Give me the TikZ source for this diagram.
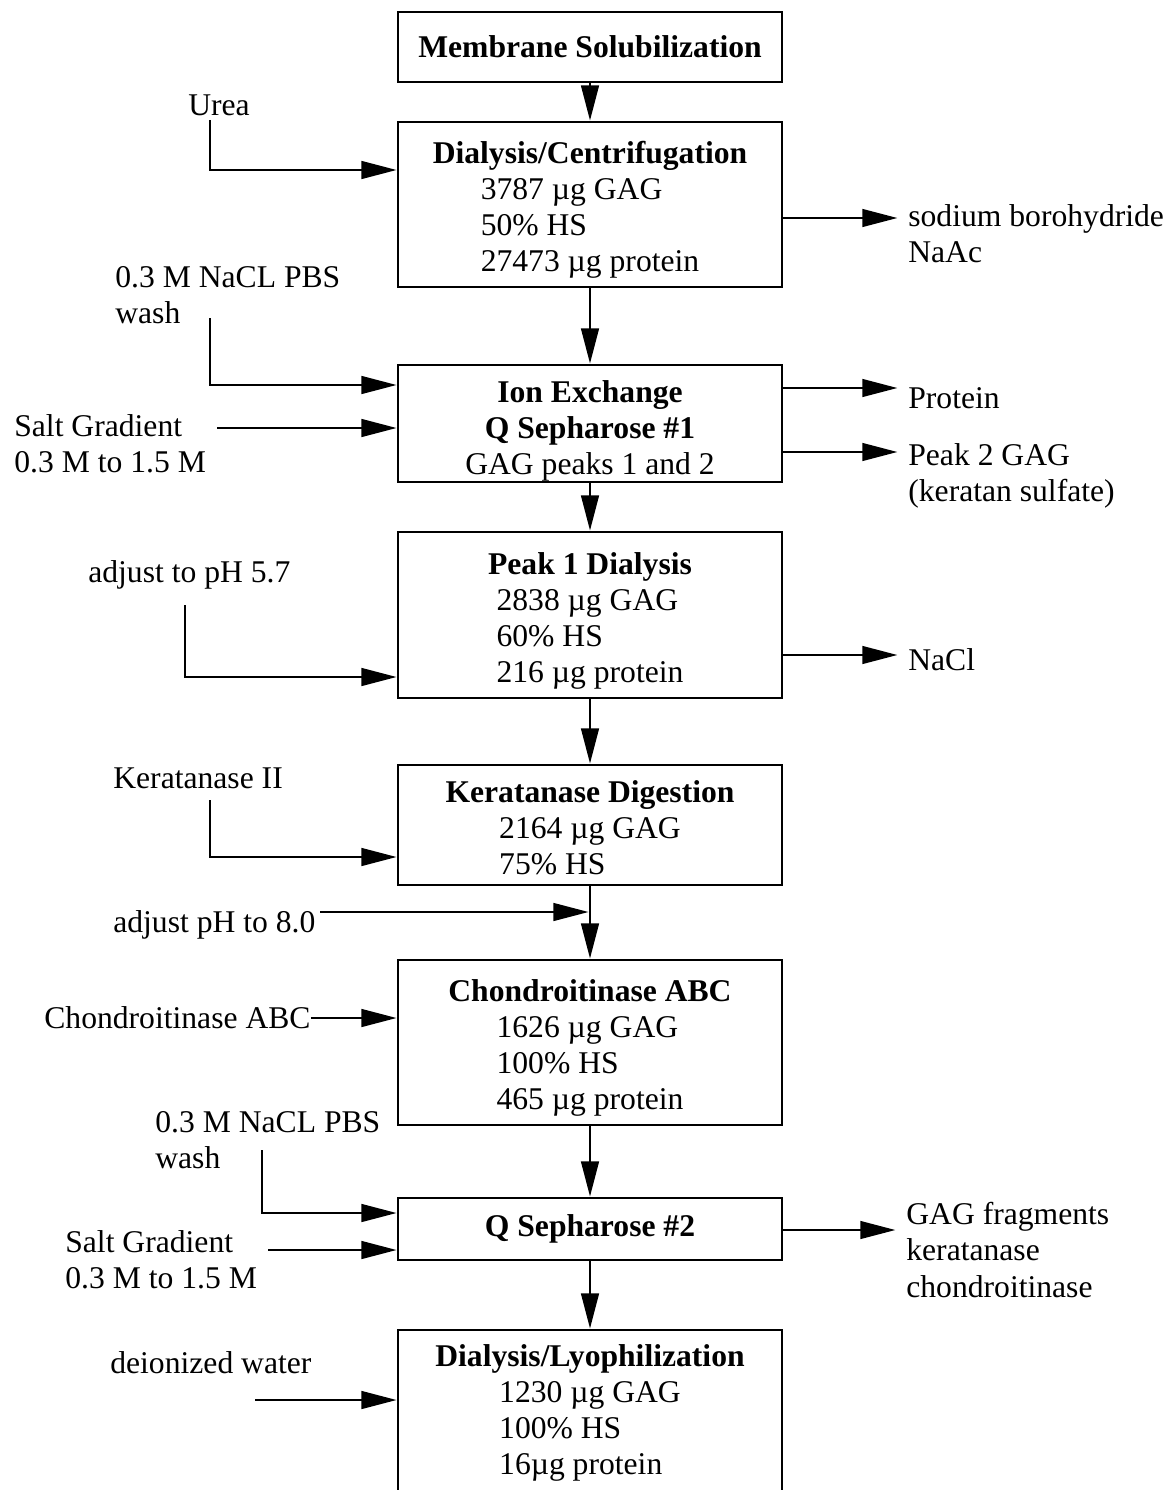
\documentclass[tikz,border=0pt]{standalone}
\usepackage{fontspec}
\setmainfont{Liberation Serif}
\usetikzlibrary{arrows.meta,positioning}

\newcommand\steptitle[1]{\rule{0pt}{21pt}\textbf{#1}}

\begin{document}
\begin{tikzpicture}[x=0.02cm,y=-0.02cm,
    font=\fontsize{18}{20.5}\selectfont,
    stepbox/.style={draw,line width=1.6pt,minimum width=7.68cm,
      align=center,inner sep=0pt},
    lbl/.style={align=left,inner sep=0pt,anchor=west},
    ar/.style={-{Triangle[length=20pt,width=10pt]},line width=1.5pt},
    outar/.style={ar,shorten >=6pt},
  ]
    \useasboundingbox (0,0) rectangle (1171,1490);
    \clip (0,0) rectangle (1171,1490);

    % main steps
    \node[stepbox,minimum height=1.4cm](solub) at (590,47)
      {\textbf{Membrane Solubilization}};
    \node[stepbox,minimum height=3.3cm](dialys) at (590,204.5)
      {\steptitle{Dialysis/Centrifugation}\\
       \begin{tabular}[t]{@{}l@{}}3787 µg GAG\\50\% HS\\27473 µg protein\end{tabular}};
    \node[stepbox,minimum height=2.34cm](ionex) at (590,423.5)
      {\steptitle{Ion Exchange}\\\textbf{Q Sepharose \#1}\\GAG peaks 1 and 2};
    \node[stepbox,minimum height=3.32cm](peak1) at (590,615)
      {\steptitle{Peak 1 Dialysis}\\
       \begin{tabular}[t]{@{}l@{}}2838 µg GAG\\60\% HS\\216 µg protein\end{tabular}};
    \node[stepbox,minimum height=2.4cm](kerat) at (590,825)
      {\steptitle{Keratanase Digestion}\\
       \begin{tabular}[t]{@{}l@{}}2164 µg GAG\\75\% HS\end{tabular}};
    \node[stepbox,minimum height=3.3cm](chond) at (590,1042.5)
      {\steptitle{Chondroitinase ABC}\\
       \begin{tabular}[t]{@{}l@{}}1626 µg GAG\\100\% HS\\465 µg protein\end{tabular}};
    \node[stepbox,minimum height=1.24cm](qseph) at (590,1229)
      {\textbf{Q Sepharose \#2}};
    \node[stepbox,minimum height=3.4cm](lyoph) at (590,1415)
      {\textbf{Dialysis/Lyophilization}\\
       \begin{tabular}[t]{@{}l@{}}1230 µg GAG\\100\% HS\\16µg protein\end{tabular}};

    \draw[ar](solub)--(dialys);\draw[ar](dialys)--(ionex);
    \draw[ar](ionex)--(peak1);\draw[ar](peak1)--(kerat);
    \draw[ar](kerat)--(chond);\draw[ar](chond)--(qseph);
    \draw[ar](qseph)--(lyoph);

    % inputs on the left
    \node[lbl,anchor=center](urea) at (219,105) {Urea};
    \node[lbl](washA) at (115,295) {0.3 M NaCL PBS\\wash};
    \node[lbl](saltA) at (14,444) {Salt Gradient\\0.3 M to 1.5 M};
    \node[lbl](ph57) at (88,575) {adjust to pH 5.7};
    \node[lbl](kerII) at (113,778) {Keratanase II};
    \node[lbl](ph80) at (113,925) {adjust pH to 8.0};
    \node[lbl](chase) at (44,1018) {Chondroitinase ABC};
    \node[lbl](washB) at (155,1140) {0.3 M NaCL PBS\\wash};
    \node[lbl](saltB) at (65,1260) {Salt Gradient\\0.3 M to 1.5 M};
    \node[lbl](water) at (110,1363) {deionized water};

    \coordinate (ureaA) at (210,120);
    \coordinate (washAa) at (210,318);
    \coordinate (saltAa) at (217,428);
    \coordinate (ph57a) at (185,605);
    \coordinate (kerIIa) at (210,800);
    \coordinate (ph80a) at (320,912);
    \coordinate (washBa) at (262,1150);
    \coordinate (saltBa) at (268,1250);
    \coordinate (watera) at (255,1400);

    \draw[ar](ureaA)|-(dialys.west |- 0,170);
    \draw[ar](washAa)|-(ionex.west |- 0,385);
    \draw[ar](saltAa)--(ionex.west |- saltAa);
    \draw[ar](ph57a)|-(peak1.west |- 0,677);
    \draw[ar](kerIIa)|-(kerat.west |- 0,857);
    \draw[ar,shorten >=0.8pt](ph80a)--(kerat.south |- ph80a);
    \draw[ar](chase.east)--(chond.west |- chase.east);
    \draw[ar](washBa)|-(qseph.west |- 0,1213);
    \draw[ar](saltBa)--(qseph.west |- saltBa);
    \draw[ar](watera)--(lyoph.west |- watera);

    % outputs on the right
    \node[lbl](borohyd) at (908,234) {sodium borohydride\\NaAc};
    \node[lbl](protout) at (908,398) {Protein};
    \node[lbl](peaktwo) at (908,476) {Peak 2 GAG\\(keratan sulfate)};
    \node[lbl](nacl) at (908,660) {NaCl};
    \node[lbl](gagfrag) at (906,1250) {GAG fragments\\keratanase\\chondroitinase};

    \draw[outar](dialys.east |- 0,218)--(borohyd.west |- 0,218);
    \draw[outar](ionex.east |- 0,388)--(protout.west |- 0,388);
    \draw[outar](ionex.east |- 0,452)--(peaktwo.west |- 0,452);
    \draw[outar](peak1.east |- 0,655)--(nacl.west |- 0,655);
    \draw[outar](qseph.east |- 0,1230)--(gagfrag.west |- 0,1230);
  \end{tikzpicture}
\end{document}
